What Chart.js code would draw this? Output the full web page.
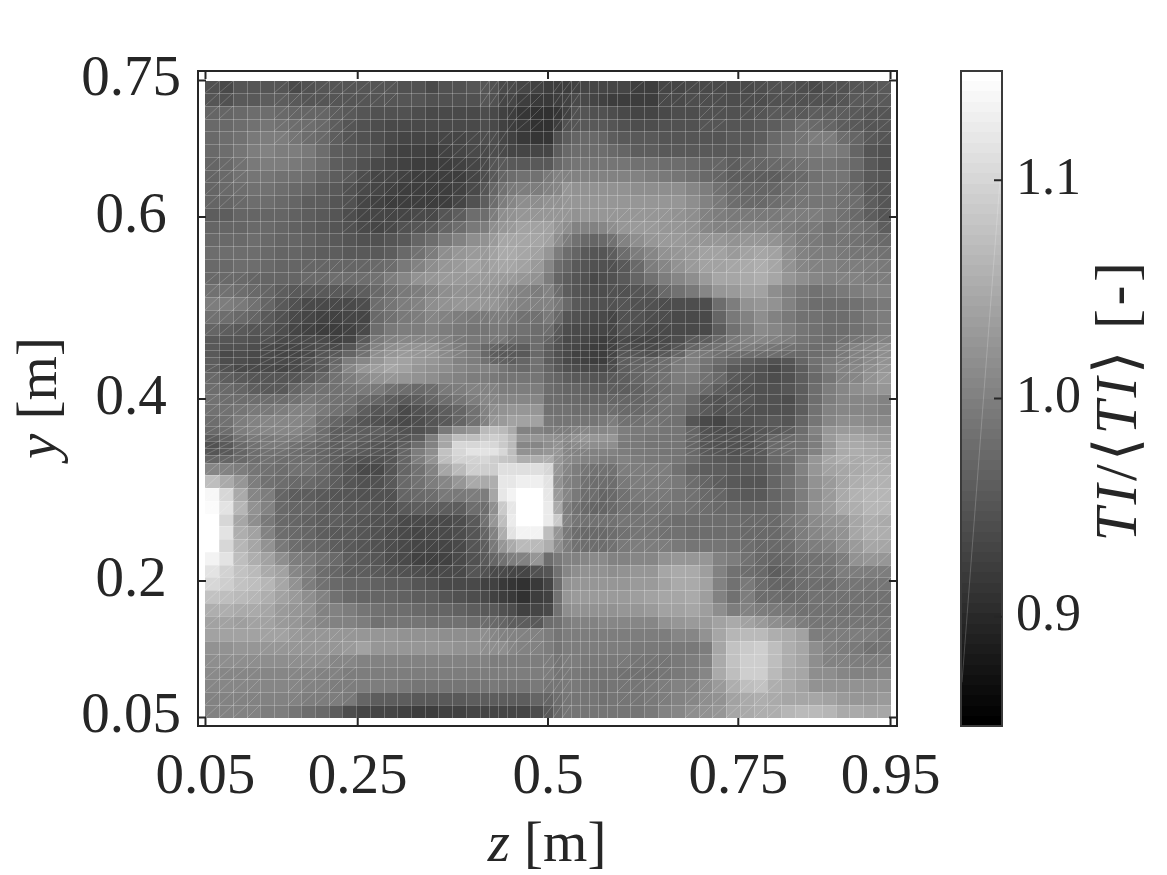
<!DOCTYPE html>
<html>
<head>
<meta charset="utf-8">
<title>TI map</title>
<script src="https://cdn.jsdelivr.net/npm/chart.js@4"></script>
<style>
  html, body { margin: 0; padding: 0; background: #fff; }
  canvas { position: absolute; top: 0; }
</style>
</head>
<body>
<canvas id="mapChart" width="1167" height="875" style="left:0"></canvas>
<canvas id="barChart" width="217" height="875" style="left:950px"></canvas>
<script>
// mesh edges of the traverse, in metres
const zEdges = [0.05,0.068,0.086,0.104,0.122,0.14,0.158,0.176,0.194,0.212,0.23,0.248,0.266,0.284,0.302,0.32,0.338,0.356,0.374,0.392,0.41,
  0.422,0.434,0.446,0.458,0.476,0.494,0.506,0.518,0.53,0.542,0.554,0.566,0.578,0.59,
  0.608,0.626,0.644,0.662,0.68,0.698,0.716,0.734,0.752,0.77,0.788,0.806,0.824,0.842,0.86,0.878,0.896,0.914,0.932,0.95];
const yEdges = [0.75,0.736,0.722,0.708,0.694,0.68,0.666,0.652,0.638,0.624,0.61,0.596,0.582,0.568,0.554,0.54,0.526,0.512,0.498,0.484,0.47,
  0.462,0.454,0.446,0.438,0.43,0.418,0.406,0.394,0.382,0.37,0.362,0.354,0.346,0.338,0.33,
  0.316,0.302,0.288,0.274,0.26,0.246,0.232,0.218,0.204,0.19,0.176,0.162,0.148,0.134,0.12,0.106,0.092,0.078,0.064,0.05];

const zTicks = [0.05, 0.25, 0.5, 0.75, 0.95];
const yTicks = [0.05, 0.2, 0.4, 0.6, 0.75];
const cbTicks = [0.9, 1.0, 1.1];
const cbMin = 0.85, cbMax = 1.15;

// TI/<TI> per cell as colour-bar readings, 0 = cbMin and 255 = cbMax. Top row first, z increasing.
const tiLevels = [
[80,75,85,85,85,85,75,80,85,85,85,85,85,85,80,80,75,80,80,85,85,80,75,75,70,65,62,60,62,65,68,68,68,68,68,62,62,70,70,75,75,75,75,75,78,80,82,78,75,80,82,85,85,90],
[85,80,90,90,95,95,90,85,85,85,85,85,85,85,85,85,80,80,80,80,85,80,70,70,60,58,58,60,65,72,72,70,65,62,62,62,62,72,75,78,78,78,78,78,78,80,82,80,80,82,85,88,88,88],
[100,100,105,110,110,105,100,100,100,95,90,85,80,80,80,78,75,75,75,75,78,75,65,60,55,50,50,55,65,80,85,80,80,78,72,70,70,75,78,78,80,80,80,82,85,88,90,90,92,92,92,88,85,85],
[105,105,110,115,118,115,110,110,105,95,85,80,78,75,72,72,75,75,75,75,78,72,65,60,58,50,50,60,80,85,90,90,88,85,80,78,78,80,80,82,85,85,85,85,90,95,100,108,105,100,95,90,85,85],
[105,110,115,120,125,125,118,110,105,95,85,80,78,72,70,70,70,70,70,75,78,78,70,65,58,55,55,80,95,100,105,105,100,95,90,90,88,85,85,85,85,85,88,90,95,105,112,118,125,125,110,100,90,85],
[105,110,118,125,128,125,125,120,110,95,88,85,80,70,65,65,62,65,68,72,75,78,75,70,68,70,70,95,105,110,110,110,108,105,100,95,92,90,90,88,88,90,90,95,100,110,118,120,122,125,120,100,85,82],
[100,105,115,122,125,125,120,118,108,95,88,80,75,68,65,62,62,62,65,70,75,85,88,88,88,88,90,105,115,118,118,118,118,118,118,115,112,110,108,105,100,100,95,100,102,105,108,112,118,118,115,105,90,82],
[100,105,112,118,118,115,112,108,100,92,88,78,70,68,65,62,60,60,62,70,78,90,100,108,112,115,120,128,130,130,128,128,128,128,128,128,125,122,118,112,105,100,95,92,92,95,100,105,115,118,118,100,90,84],
[100,105,110,112,112,108,105,100,95,90,80,72,68,65,62,62,60,60,65,75,85,100,115,120,125,125,130,135,148,145,145,145,145,145,145,142,140,140,140,135,125,112,105,100,100,102,108,115,118,118,115,105,90,84],
[100,102,105,108,108,105,100,95,92,85,80,70,65,62,62,60,60,62,68,80,95,110,125,135,140,140,145,145,150,148,148,148,148,148,148,148,148,150,148,140,130,120,110,105,105,108,112,118,118,118,115,108,95,85],
[95,95,100,102,102,100,98,92,90,85,78,70,68,68,70,72,75,85,95,108,110,125,140,145,150,150,150,150,148,145,148,148,150,150,150,150,150,150,145,140,130,125,120,120,120,122,125,125,125,120,115,105,95,85],
[100,100,102,105,105,100,98,95,90,85,80,72,70,75,80,85,90,100,110,120,125,140,150,155,160,160,160,150,142,130,130,130,135,140,150,155,155,150,148,145,135,130,130,135,135,130,125,122,120,115,118,115,108,95],
[105,105,105,108,105,102,100,98,95,90,85,80,80,85,90,100,110,120,130,140,145,155,165,165,165,165,160,140,125,115,105,100,105,115,130,140,150,155,155,150,150,150,145,148,150,145,135,125,120,118,118,115,110,105],
[108,108,108,108,105,102,100,98,95,92,90,90,90,95,105,115,125,140,150,155,155,160,170,170,165,160,150,125,110,100,90,85,85,95,110,125,135,145,150,155,160,160,155,160,165,160,140,130,125,125,120,118,118,112],
[105,105,108,108,105,100,100,100,100,100,100,100,105,110,120,130,140,150,155,160,155,160,165,165,160,155,135,110,100,90,85,80,80,80,90,105,125,135,145,155,160,160,165,170,172,165,145,135,130,130,125,125,125,120],
[105,105,105,102,100,100,100,105,105,108,108,108,115,125,135,145,150,155,155,155,155,155,155,155,150,145,125,100,95,85,80,75,78,80,90,100,115,125,135,140,155,165,165,170,172,165,150,140,135,130,130,130,125,125],
[115,112,108,105,100,95,90,88,88,88,90,95,105,115,120,125,135,140,145,145,145,145,140,135,130,125,128,108,95,85,80,78,78,80,82,85,90,105,115,120,135,150,155,160,160,140,130,120,115,118,120,125,130,130],
[125,125,120,115,100,90,80,75,72,72,72,78,110,118,125,130,140,145,150,150,150,148,140,135,130,128,128,120,105,90,85,82,80,82,84,82,80,78,78,76,78,110,125,145,150,145,130,118,110,108,108,112,118,120],
[115,110,105,100,90,80,72,68,65,65,68,70,105,115,120,125,135,130,125,120,122,125,125,120,115,112,120,105,85,80,78,75,72,70,82,80,78,78,75,75,74,100,120,130,140,130,120,115,112,110,108,115,120,125],
[100,95,88,85,85,78,68,65,62,62,65,72,110,120,125,125,130,125,120,118,118,120,120,115,112,108,110,90,78,75,72,68,68,68,80,78,75,75,72,72,72,95,115,125,138,135,125,118,112,108,108,112,118,125],
[90,85,85,82,82,75,72,72,75,65,70,90,120,130,135,135,135,130,120,120,120,122,120,110,108,110,100,85,75,72,68,65,62,65,75,70,68,72,78,90,95,105,120,130,135,130,125,118,112,108,112,118,125,130],
[88,80,80,78,75,70,70,72,78,72,85,100,130,140,145,145,145,135,125,118,105,100,92,92,92,110,95,82,72,68,66,62,60,65,78,75,72,78,85,100,110,115,120,125,120,118,115,115,110,115,120,130,135,140],
[90,75,78,75,72,68,68,72,85,88,100,115,140,150,155,150,148,138,130,125,105,95,90,88,88,105,95,82,72,66,64,60,60,68,85,85,82,90,100,125,120,112,108,110,108,108,105,105,108,115,122,130,135,140],
[92,78,78,75,75,72,75,80,90,100,125,135,150,160,160,155,150,140,130,125,115,100,98,95,100,112,95,85,72,68,66,62,62,72,95,98,100,110,120,130,118,108,102,95,88,80,85,100,112,120,125,130,138,145],
[95,82,75,72,72,70,72,80,90,110,135,150,158,165,160,150,145,140,135,130,130,128,118,110,105,112,100,90,82,78,75,72,72,78,95,102,105,110,125,130,115,102,90,85,80,75,80,95,110,125,130,135,140,150],
[105,92,88,85,85,85,85,92,100,112,125,135,145,150,150,145,140,135,130,125,125,122,118,118,118,118,105,100,95,90,88,85,85,88,92,100,108,115,125,125,115,105,90,85,80,78,80,92,105,118,128,135,145,155],
[110,105,100,95,90,90,100,110,112,115,118,120,120,115,108,105,110,120,125,130,130,128,125,125,125,125,110,105,100,100,98,95,92,92,95,98,105,110,118,118,105,92,85,80,80,80,85,95,110,125,135,140,145,150],
[115,110,108,108,108,108,115,120,118,115,112,105,100,95,90,92,100,110,118,125,132,135,135,135,135,132,110,108,105,105,102,102,100,100,100,100,105,112,118,105,85,80,88,85,82,82,78,92,110,125,135,135,135,130],
[115,115,118,120,122,125,130,128,122,112,108,93,86,88,75,80,85,92,100,115,130,140,145,148,148,148,115,112,112,110,110,108,108,108,105,105,108,115,115,100,88,82,84,82,80,82,80,95,115,130,135,135,135,130],
[110,115,125,130,135,135,135,130,115,100,93,86,80,78,72,78,85,90,100,115,130,148,155,160,162,162,120,118,118,118,118,118,120,125,115,115,118,115,112,85,75,70,80,82,85,88,85,100,118,135,140,140,138,138],
[105,108,125,130,135,135,132,125,110,95,93,93,93,88,80,82,90,120,140,150,185,190,185,170,130,128,125,125,125,128,132,135,135,138,125,122,120,118,118,100,80,78,78,80,85,90,95,110,128,150,155,155,150,148],
[95,98,115,120,122,125,125,118,108,95,98,93,90,86,85,95,125,165,190,190,200,205,200,185,150,150,145,140,138,145,148,150,150,148,125,120,118,118,118,100,85,80,80,80,88,100,105,115,125,155,165,165,160,155],
[80,88,105,115,120,120,115,110,100,92,96,88,86,86,95,110,130,165,215,215,218,215,200,185,135,135,140,145,135,138,140,142,142,140,122,120,118,118,118,100,85,82,80,80,90,105,110,115,125,150,170,170,165,160],
[85,88,100,108,112,112,108,105,100,92,93,88,86,86,100,125,140,195,215,225,225,225,215,190,145,145,150,150,132,130,128,128,128,130,125,122,120,118,118,105,90,85,82,85,90,105,108,118,130,155,170,172,168,165],
[100,100,105,110,112,110,108,108,100,92,85,80,80,85,100,125,145,190,210,210,212,205,198,192,175,175,175,150,138,135,130,130,125,125,130,125,120,120,118,110,95,90,85,85,90,105,110,125,150,165,172,170,172,170],
[135,130,125,118,115,110,112,112,105,95,85,75,75,85,100,115,130,165,185,205,205,205,220,220,222,222,215,150,132,125,118,115,115,115,125,125,125,125,115,100,95,92,88,88,88,100,110,130,150,160,165,170,175,175],
[190,170,150,125,115,108,105,105,100,92,85,80,82,88,105,112,125,135,150,170,170,175,230,230,238,238,225,145,130,125,112,110,108,110,120,125,125,125,120,110,100,95,88,85,85,100,112,125,145,155,165,175,178,178],
[245,215,170,135,125,100,95,92,90,85,85,82,80,82,100,105,110,120,120,125,125,165,230,240,255,255,230,155,135,120,110,108,100,105,115,120,122,120,118,115,105,100,92,88,90,100,110,125,140,155,168,178,180,180],
[250,225,180,145,130,105,100,100,95,92,90,88,85,82,90,92,95,95,95,110,110,140,200,230,255,255,235,170,125,112,105,100,100,105,112,115,118,118,118,115,110,105,105,100,100,105,112,125,145,155,170,175,180,180],
[255,215,165,140,120,105,100,98,95,92,88,85,82,80,75,72,72,72,78,88,115,150,190,235,255,255,235,200,130,118,115,112,112,115,118,118,118,115,110,110,110,110,108,105,105,105,118,125,138,145,150,165,175,170],
[255,225,175,160,130,110,105,100,95,90,88,85,80,78,72,70,72,75,78,85,100,130,175,225,240,240,190,150,120,110,105,105,105,108,115,118,118,115,112,110,110,110,108,105,105,105,115,125,135,140,145,165,175,175],
[255,215,180,165,145,120,108,105,100,95,88,85,80,78,72,68,68,70,72,85,95,120,150,170,185,185,175,140,125,115,110,110,110,115,120,125,125,125,120,118,118,118,112,108,105,105,110,120,125,130,140,155,165,165],
[240,225,190,175,160,140,125,120,112,105,92,88,85,78,72,65,66,66,72,80,90,100,115,125,130,150,110,120,130,130,135,138,138,130,130,135,135,145,150,150,150,130,125,115,105,100,105,115,115,118,125,145,150,150],
[225,210,195,185,170,160,135,125,110,100,95,92,90,85,80,78,75,72,75,85,80,75,75,70,70,80,85,115,135,140,145,145,145,140,145,150,150,165,170,170,158,128,112,110,105,95,100,110,112,115,125,125,125,125],
[215,205,195,190,180,165,145,125,115,105,100,100,98,95,92,85,82,75,72,75,65,65,58,55,50,58,70,110,145,150,150,150,150,150,150,155,155,160,170,170,160,130,115,120,110,100,100,108,110,110,118,118,118,118],
[195,190,185,180,175,160,155,140,130,112,105,102,100,100,98,95,92,85,82,78,72,65,62,58,50,60,65,115,150,152,155,155,155,155,155,158,160,165,165,170,158,130,115,125,110,110,105,110,112,112,112,112,112,112],
[175,175,170,170,165,155,150,145,130,128,125,118,112,110,108,105,102,100,98,92,88,88,82,78,65,70,75,115,140,145,145,145,145,145,150,150,155,160,160,165,158,140,125,130,125,120,118,115,112,112,112,112,112,112],
[160,160,158,160,160,155,150,140,135,130,130,125,115,118,118,118,115,115,115,110,110,105,100,95,92,90,110,115,125,130,130,130,135,135,135,135,135,145,150,155,155,160,170,160,155,140,135,125,118,118,118,118,118,118],
[160,160,160,160,160,160,155,150,150,150,150,150,150,148,145,145,145,142,142,142,140,135,130,130,130,130,125,118,125,125,125,125,125,125,125,125,125,125,135,135,145,165,180,185,185,175,170,160,125,125,125,125,125,118],
[145,145,148,148,150,150,150,148,150,150,155,160,150,150,150,150,150,148,145,145,142,140,140,135,130,130,125,118,125,125,125,125,125,125,125,122,120,120,120,120,125,165,195,200,205,190,175,165,140,130,125,120,115,118],
[140,140,140,140,140,140,140,140,140,135,135,130,130,130,130,130,130,130,130,130,128,125,125,125,125,125,125,118,125,125,122,120,120,120,120,118,118,118,120,125,130,170,195,205,205,190,175,165,140,130,130,125,125,125],
[138,135,135,135,135,135,135,135,130,130,125,125,125,125,125,125,125,125,125,125,125,125,125,125,125,125,125,118,120,120,118,118,118,118,115,115,115,118,120,125,135,170,190,205,205,185,170,165,140,140,135,130,130,135],
[135,135,135,135,135,135,135,130,128,125,125,125,125,125,120,118,118,118,118,118,118,120,118,118,118,120,118,118,120,120,118,118,115,118,118,118,120,125,128,130,140,155,175,190,195,175,170,160,145,145,145,145,145,145],
[130,130,130,130,130,130,130,125,125,125,120,100,95,95,92,90,88,88,90,92,95,95,95,95,95,100,100,110,118,118,118,118,115,118,118,118,120,125,130,135,140,145,160,170,175,170,165,165,165,160,155,150,150,155],
[130,130,128,128,125,125,118,110,105,95,78,70,68,68,66,62,62,65,65,68,70,70,68,68,68,78,90,105,118,118,118,118,118,118,118,118,120,130,135,140,145,150,165,170,175,175,180,185,185,180,170,170,165,165]
];

// blocks of cells whose triangles leave a visible diagonal seam: [firstCol, lastCol, firstRow, lastRow]
const seamBlocks = [
  [0,1,0,2],[5,10,0,4],[11,13,0,1],[20,25,0,1],[23,25,2,3],[0,2,6,9],[17,22,4,8],[10,18,7,11],[21,25,8,15],[15,20,13,16],[0,3,15,16],[7,13,14,16],
  [27,29,0,3],[35,35,0,0],[37,41,0,1],[40,41,2,3],[43,46,0,2],[47,53,0,4],[41,47,6,9],[26,28,7,12],[33,48,10,14],[50,53,8,15],
  [0,11,16,19],[12,25,16,18],[4,9,20,23],[11,18,20,22],[21,23,20,23],[0,13,24,29],[14,21,26,29],[0,5,29,34],[6,14,30,34],[0,19,34,38],
  [26,27,16,20],[33,37,16,20],[33,38,21,23],[39,46,20,22],[50,53,20,25],[33,37,24,29],[40,43,25,28],[39,46,30,33],[27,30,30,33],[26,28,34,37],[30,37,35,37],[39,41,36,38],[49,53,34,38],
  [2,25,38,43],[0,8,43,47],[4,10,48,49],[6,10,50,53],[0,3,50,54],[20,25,47,49],
  [27,37,38,41],[43,53,39,47],[26,28,50,54],[34,37,50,53],[39,45,52,54],[49,53,48,50]
];

const inkColor = "#262626";
const tickFont = "'Liberation Serif', serif";

function grayFor(ti) {
  // 64 step gray colour map
  let t = (ti - cbMin) / (cbMax - cbMin);
  t = Math.min(0.999, Math.max(0, t));
  const g = Math.round(Math.floor(t * 64) / 63 * 255);
  return "rgb(" + g + "," + g + "," + g + ")";
}

function inSeamBlock(c, r) {
  return seamBlocks.some(b => c >= b[0] && c <= b[1] && r >= b[2] && r <= b[3]);
}

// mixed italic / upright label, centred on (cx, cy)
function drawRuns(ctx, runs, cx, cy, size, angle, spacing) {
  ctx.save();
  ctx.translate(cx, cy);
  ctx.rotate(angle);
  ctx.fillStyle = inkColor;
  ctx.textBaseline = "alphabetic";
  ctx.textAlign = "left";
  ctx.letterSpacing = (spacing || 0) + "px";
  let total = 0;
  runs.forEach(run => {
    ctx.font = (run[1] ? "italic " : "") + size + "px " + tickFont;
    total += ctx.measureText(run[0]).width;
  });
  let x = -total / 2;
  runs.forEach(run => {
    ctx.font = (run[1] ? "italic " : "") + size + "px " + tickFont;
    ctx.fillText(run[0], x, size * 0.3);
    x += ctx.measureText(run[0]).width;
  });
  ctx.restore();
}

const cells = [];
tiLevels.forEach((row, r) => {
  row.forEach((level, c) => {
    cells.push({
      x: (zEdges[c] + zEdges[c + 1]) / 2,
      y: (yEdges[r] + yEdges[r + 1]) / 2,
      c: c, r: r,
      ti: cbMin + level / 255 * (cbMax - cbMin)
    });
  });
});

const cellPlugin = {
  id: "cellPlugin",
  beforeDatasetsDraw(chart) {
    const ctx = chart.ctx, xs = chart.scales.x, ys = chart.scales.y;
    const px = zEdges.map(v => Math.round(xs.getPixelForValue(v)));
    const py = yEdges.map(v => Math.round(ys.getPixelForValue(v)));
    chart.data.datasets[0].data.forEach(cell => {
      ctx.fillStyle = grayFor(cell.ti);
      ctx.fillRect(px[cell.c], py[cell.r], px[cell.c + 1] - px[cell.c], py[cell.r + 1] - py[cell.r]);
    });
    // seams left between the mesh faces
    ctx.strokeStyle = "rgba(255,255,255,0.24)";
    ctx.lineWidth = 1;
    ctx.beginPath();
    px.slice(1, -1).forEach(x => { ctx.moveTo(x + 0.5, py[0]); ctx.lineTo(x + 0.5, py[py.length - 1]); });
    py.slice(1, -1).forEach(y => { ctx.moveTo(px[0], y + 0.5); ctx.lineTo(px[px.length - 1], y + 0.5); });
    ctx.stroke();
    ctx.strokeStyle = "rgba(255,255,255,0.2)";
    ctx.beginPath();
    for (let r = 0; r < py.length - 1; r++) {
      for (let c = 0; c < px.length - 1; c++) {
        if (inSeamBlock(c, r)) {
          ctx.moveTo(px[c], py[r + 1]);
          ctx.lineTo(px[c + 1], py[r]);
        }
      }
    }
    ctx.stroke();
  },
  afterDraw(chart) {
    const ctx = chart.ctx, area = chart.chartArea, xs = chart.scales.x, ys = chart.scales.y;
    const len = 8;
    ctx.save();
    ctx.strokeStyle = inkColor;
    ctx.lineWidth = 2;
    ctx.strokeRect(area.left, area.top, area.right - area.left, area.bottom - area.top);
    ctx.beginPath();
    zTicks.forEach(v => {
      const x = xs.getPixelForValue(v);
      ctx.moveTo(x, area.top); ctx.lineTo(x, area.top + len);
      ctx.moveTo(x, area.bottom); ctx.lineTo(x, area.bottom - len);
    });
    yTicks.forEach(v => {
      const y = ys.getPixelForValue(v);
      ctx.moveTo(area.left, y); ctx.lineTo(area.left + len, y);
      ctx.moveTo(area.right, y); ctx.lineTo(area.right - len, y);
    });
    ctx.stroke();
    ctx.restore();
    drawRuns(ctx, [["z", true], [" [m]", false]], 547, 844, 57, 0);
    drawRuns(ctx, [["y", true], [" [m]", false]], 39, 398, 57, -Math.PI / 2);
  }
};

new Chart(document.getElementById("mapChart"), {
  type: "scatter",
  data: { datasets: [{ data: cells, pointRadius: 0 }] },
  plugins: [cellPlugin],
  options: {
    responsive: false,
    animation: false,
    layout: { padding: { top: 71, right: 270, left: 0, bottom: 0 } },
    plugins: { legend: { display: false }, tooltip: { enabled: false } },
    scales: {
      x: {
        type: "linear",
        min: 0.04016, max: 0.9585,
        grid: { display: false },
        border: { display: false },
        afterFit(scale) { scale.height = 149; },
        afterBuildTicks(scale) { scale.ticks = zTicks.map(v => ({ value: v })); },
        ticks: {
          autoSkip: false, maxRotation: 0, padding: 10, color: inkColor,
          font: { family: tickFont, size: 57 },
          callback: v => String(v)
        }
      },
      y: {
        type: "linear",
        min: 0.04066, max: 0.76044,
        grid: { display: false },
        border: { display: false },
        afterFit(scale) { scale.width = 198; },
        afterBuildTicks(scale) { scale.ticks = yTicks.map(v => ({ value: v })); },
        ticks: {
          autoSkip: false, padding: 9, crossAlign: "center", color: inkColor,
          font: { family: tickFont, size: 57 },
          callback: v => String(v)
        }
      }
    }
  }
});

// colour bar on its own canvas
const barLevels = [];
for (let i = 0; i < 64; i++) barLevels.push({ x: 0, y: cbMin + (i + 0.5) / 64 * (cbMax - cbMin) });

const barPlugin = {
  id: "barPlugin",
  beforeDatasetsDraw(chart) {
    const ctx = chart.ctx, area = chart.chartArea, ys = chart.scales.y;
    const step = (cbMax - cbMin) / 64;
    chart.data.datasets[0].data.forEach(p => {
      const top = Math.round(ys.getPixelForValue(p.y + step / 2));
      const bottom = Math.round(ys.getPixelForValue(p.y - step / 2));
      ctx.fillStyle = grayFor(p.y);
      ctx.fillRect(area.left, top, area.right - area.left, bottom - top);
    });
    ctx.strokeStyle = "rgba(255,255,255,0.2)";
    ctx.lineWidth = 1;
    ctx.beginPath();
    ctx.moveTo(area.left + 1, ys.getPixelForValue(0.87));
    ctx.lineTo(area.right - 2, ys.getPixelForValue(1.1));
    ctx.stroke();
  },
  afterDraw(chart) {
    const ctx = chart.ctx, area = chart.chartArea, ys = chart.scales.y;
    ctx.save();
    ctx.strokeStyle = "#3a3a3a";
    ctx.lineWidth = 2;
    ctx.strokeRect(area.left, area.top, area.right - area.left, area.bottom - area.top);
    ctx.strokeStyle = inkColor;
    ctx.beginPath();
    cbTicks.forEach(v => {
      const y = ys.getPixelForValue(v);
      ctx.moveTo(area.right, y);
      ctx.lineTo(area.right - 8, y);
    });
    ctx.stroke();
    ctx.restore();
    drawRuns(ctx, [["TI", true], ["/\u27e8", false], ["TI", true], ["\u27e9 [-]", false]], 168, 400, 60, -Math.PI / 2, 3.5);
  }
};

new Chart(document.getElementById("barChart"), {
  type: "scatter",
  data: { datasets: [{ data: barLevels, pointRadius: 0 }] },
  plugins: [barPlugin],
  options: {
    responsive: false,
    animation: false,
    layout: { padding: { top: 71, bottom: 149, left: 11, right: 0 } },
    plugins: { legend: { display: false }, tooltip: { enabled: false } },
    scales: {
      x: { type: "linear", display: false, min: -1, max: 1 },
      y: {
        type: "linear",
        position: "right",
        min: cbMin, max: cbMax,
        grid: { display: false },
        border: { display: false },
        afterFit(scale) { scale.width = 165; },
        afterBuildTicks(scale) { scale.ticks = cbTicks.map(v => ({ value: v })); },
        ticks: {
          autoSkip: false, padding: 6, color: inkColor,
          font: { family: tickFont, size: 52 },
          callback: v => v.toFixed(1)
        }
      }
    }
  }
});
</script>
</body>
</html>
